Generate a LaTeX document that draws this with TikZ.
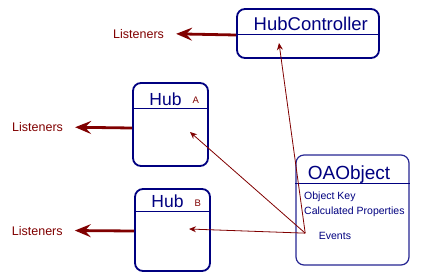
\documentclass[tikz,border=0pt]{standalone}
\usepackage{fontspec}
\setmainfont{Liberation Sans}
\usetikzlibrary{arrows.meta, positioning}
\definecolor{Navy}{RGB}{0,0,128}
\definecolor{Maroon}{RGB}{128,0,0}

\tikzset{
  classbox/.style={draw=Navy, line width=1.8pt, rounded corners=8pt, fill=white, inner sep=0pt},
  divider/.style={draw=Navy, line width=1.1pt},
  classname/.style={text=Navy, font=\fontsize{17.5}{20}\selectfont, inner sep=0pt, anchor=base},
  tag/.style={text=Maroon, font=\fontsize{9.5}{11}\selectfont, inner sep=0pt, anchor=base},
  member/.style={text=Navy, font=\fontsize{10.5}{12}\selectfont, inner sep=0pt, anchor=base west},
  listener/.style={text=Maroon, font=\fontsize{12.5}{14}\selectfont, inner sep=0pt, anchor=base west},
  fire/.style={draw=Maroon, line width=2.8pt, -{Stealth[length=16pt, width=13pt, inset=6pt]}},
  ref/.style={draw=Maroon, line width=0.8pt, -{Stealth[length=7pt, width=6pt]}},
}

\begin{document}
\begin{tikzpicture}[x=1pt, y=-1pt]
  \useasboundingbox (0,0) rectangle (433,277);

  % boxes
  \node[classbox, minimum width=142pt, minimum height=49pt] (ctrl) at (308,33.5) {};
  \node[classbox, minimum width=75pt, minimum height=83pt] (hubA) at (170.5,124.5) {};
  \node[classbox, minimum width=75pt, minimum height=82pt] (hubB) at (172.5,230) {};
  \node[classbox, draw=Navy!85, line width=1.2pt, minimum width=113pt, minimum height=110pt] (obj) at (352.5,210) {};

  \draw[divider] ([yshift=-26pt]ctrl.north west) -- ([yshift=-26pt]ctrl.north east);
  \draw[divider] ([yshift=-26pt]hubA.north west) -- ([yshift=-26pt]hubA.north east);
  \draw[divider] ([yshift=-23pt]hubB.north west) -- ([yshift=-23pt]hubB.north east);
  \draw[divider] ([yshift=-29pt]obj.north west) -- ([yshift=-29pt]obj.north east);

  % titles
  \node[classname, font=\fontsize{18.5}{21}\selectfont] (ctrltitle) at (310.8,30.7) {HubController};
  \node[classname] (hubAtitle) at (165.5,105) {Hub};
  \node[tag] (hubAtag) at (195.7,103.5) {A};
  \node[classname] (hubBtitle) at (167.5,207.3) {Hub};
  \node[tag] (hubBtag) at (197.7,206) {B};
  \node[classname, font=\fontsize{19}{22}\selectfont] (objtitle) at (349,179.3) {OAObject};

  % members
  \node[member] (objkey) at (304,199.7) {Object Key};
  \node[member] (calcprops) at (304,214.4) {Calculated Properties};
  \node[member] (events) at (318.7,239.7) {Events};

  % listeners
  \node[listener] (lstctrl) at (113,38.3) {Listeners};
  \node[listener] (lsthubA) at (12,131.7) {Listeners};
  \node[listener] (lsthubB) at (11.7,235) {Listeners};

  \draw[fire] ([yshift=-1.5pt]ctrl.west) -- ([xshift=12pt]lstctrl.east);
  \draw[fire] ([yshift=-3.5pt]hubA.west) -- ([xshift=12pt]lsthubA.east);
  \draw[fire] ([yshift=-1pt]hubB.west) -- ([xshift=12pt]lsthubB.east);

  % event references
  \coordinate (evt) at ([xshift=-13.5pt,yshift=3pt]events.west);
  \coordinate (ctrlend) at (279,43);
  \coordinate (hubAend) at (190,132);
  \coordinate (hubBend) at (189,229);
  \draw[ref] (evt) -- (ctrlend);
  \draw[ref] (evt) -- (hubAend);
  \draw[ref] (evt) -- (hubBend);
\end{tikzpicture}
\end{document}
